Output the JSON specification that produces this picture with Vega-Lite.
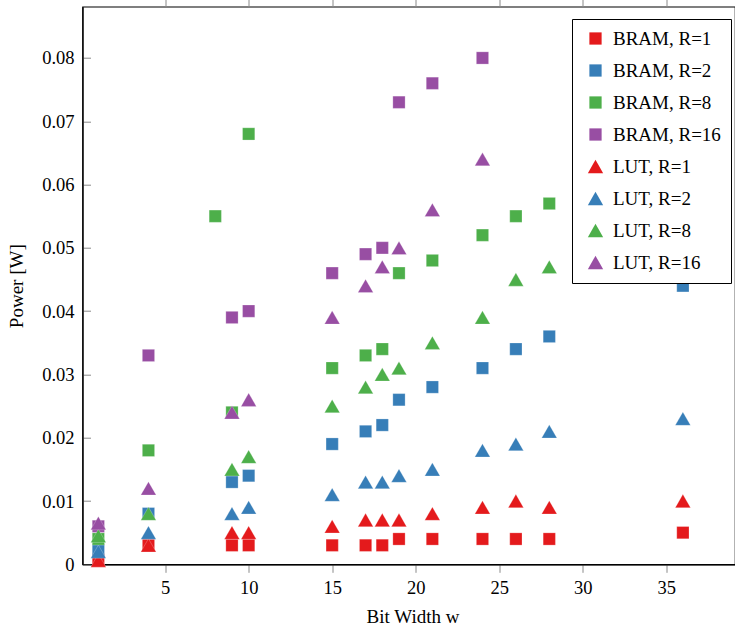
{
  "$schema": "https://vega.github.io/schema/vega-lite/v6.json",
  "autosize": {"type": "none"},
  "padding": {"left": 82.5, "top": 6.7, "right": 0, "bottom": 67.7},
  "width": 652.5,
  "height": 557.6,
  "background": "white",
  "config": {
    "font": "Liberation Serif",
    "view": {"stroke": "black", "strokeWidth": 1.2},
    "axis": {
      "labelFont": "Liberation Serif",
      "titleFont": "Liberation Serif",
      "labelFontSize": 18.5,
      "titleFontSize": 19,
      "labelColor": "black",
      "titleColor": "black",
      "titleFontWeight": "normal",
      "domainColor": "black",
      "domainWidth": 1.2,
      "tickColor": "#8a8a8a",
      "tickWidth": 1,
      "grid": false
    },
    "legend": {
      "labelFont": "Liberation Serif",
      "labelFontSize": 19,
      "labelColor": "black"
    }
  },
  "data": {"values": [
    {"w": 1, "p": 0.0007, "s": "BRAM, R=1"},
    {"w": 4, "p": 0.003, "s": "BRAM, R=1"},
    {"w": 9, "p": 0.003, "s": "BRAM, R=1"},
    {"w": 10, "p": 0.003, "s": "BRAM, R=1"},
    {"w": 15, "p": 0.003, "s": "BRAM, R=1"},
    {"w": 17, "p": 0.003, "s": "BRAM, R=1"},
    {"w": 18, "p": 0.003, "s": "BRAM, R=1"},
    {"w": 19, "p": 0.004, "s": "BRAM, R=1"},
    {"w": 21, "p": 0.004, "s": "BRAM, R=1"},
    {"w": 24, "p": 0.004, "s": "BRAM, R=1"},
    {"w": 26, "p": 0.004, "s": "BRAM, R=1"},
    {"w": 28, "p": 0.004, "s": "BRAM, R=1"},
    {"w": 36, "p": 0.005, "s": "BRAM, R=1"},
    {"w": 1, "p": 0.0022, "s": "BRAM, R=2"},
    {"w": 4, "p": 0.008, "s": "BRAM, R=2"},
    {"w": 9, "p": 0.013, "s": "BRAM, R=2"},
    {"w": 10, "p": 0.014, "s": "BRAM, R=2"},
    {"w": 15, "p": 0.019, "s": "BRAM, R=2"},
    {"w": 17, "p": 0.021, "s": "BRAM, R=2"},
    {"w": 18, "p": 0.022, "s": "BRAM, R=2"},
    {"w": 19, "p": 0.026, "s": "BRAM, R=2"},
    {"w": 21, "p": 0.028, "s": "BRAM, R=2"},
    {"w": 24, "p": 0.031, "s": "BRAM, R=2"},
    {"w": 26, "p": 0.034, "s": "BRAM, R=2"},
    {"w": 28, "p": 0.036, "s": "BRAM, R=2"},
    {"w": 36, "p": 0.044, "s": "BRAM, R=2"},
    {"w": 1, "p": 0.004, "s": "BRAM, R=8"},
    {"w": 4, "p": 0.018, "s": "BRAM, R=8"},
    {"w": 8, "p": 0.055, "s": "BRAM, R=8"},
    {"w": 9, "p": 0.024, "s": "BRAM, R=8"},
    {"w": 10, "p": 0.068, "s": "BRAM, R=8"},
    {"w": 15, "p": 0.031, "s": "BRAM, R=8"},
    {"w": 17, "p": 0.033, "s": "BRAM, R=8"},
    {"w": 18, "p": 0.034, "s": "BRAM, R=8"},
    {"w": 19, "p": 0.046, "s": "BRAM, R=8"},
    {"w": 21, "p": 0.048, "s": "BRAM, R=8"},
    {"w": 24, "p": 0.052, "s": "BRAM, R=8"},
    {"w": 26, "p": 0.055, "s": "BRAM, R=8"},
    {"w": 28, "p": 0.057, "s": "BRAM, R=8"},
    {"w": 1, "p": 0.006, "s": "BRAM, R=16"},
    {"w": 4, "p": 0.033, "s": "BRAM, R=16"},
    {"w": 9, "p": 0.039, "s": "BRAM, R=16"},
    {"w": 10, "p": 0.040, "s": "BRAM, R=16"},
    {"w": 15, "p": 0.046, "s": "BRAM, R=16"},
    {"w": 17, "p": 0.049, "s": "BRAM, R=16"},
    {"w": 18, "p": 0.050, "s": "BRAM, R=16"},
    {"w": 19, "p": 0.073, "s": "BRAM, R=16"},
    {"w": 21, "p": 0.076, "s": "BRAM, R=16"},
    {"w": 24, "p": 0.080, "s": "BRAM, R=16"},
    {"w": 1, "p": 0.0006, "s": "LUT, R=1"},
    {"w": 4, "p": 0.003, "s": "LUT, R=1"},
    {"w": 9, "p": 0.005, "s": "LUT, R=1"},
    {"w": 10, "p": 0.005, "s": "LUT, R=1"},
    {"w": 15, "p": 0.006, "s": "LUT, R=1"},
    {"w": 17, "p": 0.007, "s": "LUT, R=1"},
    {"w": 18, "p": 0.007, "s": "LUT, R=1"},
    {"w": 19, "p": 0.007, "s": "LUT, R=1"},
    {"w": 21, "p": 0.008, "s": "LUT, R=1"},
    {"w": 24, "p": 0.009, "s": "LUT, R=1"},
    {"w": 26, "p": 0.010, "s": "LUT, R=1"},
    {"w": 28, "p": 0.009, "s": "LUT, R=1"},
    {"w": 36, "p": 0.010, "s": "LUT, R=1"},
    {"w": 1, "p": 0.002, "s": "LUT, R=2"},
    {"w": 4, "p": 0.005, "s": "LUT, R=2"},
    {"w": 9, "p": 0.008, "s": "LUT, R=2"},
    {"w": 10, "p": 0.009, "s": "LUT, R=2"},
    {"w": 15, "p": 0.011, "s": "LUT, R=2"},
    {"w": 17, "p": 0.013, "s": "LUT, R=2"},
    {"w": 18, "p": 0.013, "s": "LUT, R=2"},
    {"w": 19, "p": 0.014, "s": "LUT, R=2"},
    {"w": 21, "p": 0.015, "s": "LUT, R=2"},
    {"w": 24, "p": 0.018, "s": "LUT, R=2"},
    {"w": 26, "p": 0.019, "s": "LUT, R=2"},
    {"w": 28, "p": 0.021, "s": "LUT, R=2"},
    {"w": 36, "p": 0.023, "s": "LUT, R=2"},
    {"w": 1, "p": 0.0045, "s": "LUT, R=8"},
    {"w": 4, "p": 0.008, "s": "LUT, R=8"},
    {"w": 9, "p": 0.015, "s": "LUT, R=8"},
    {"w": 10, "p": 0.017, "s": "LUT, R=8"},
    {"w": 15, "p": 0.025, "s": "LUT, R=8"},
    {"w": 17, "p": 0.028, "s": "LUT, R=8"},
    {"w": 18, "p": 0.030, "s": "LUT, R=8"},
    {"w": 19, "p": 0.031, "s": "LUT, R=8"},
    {"w": 21, "p": 0.035, "s": "LUT, R=8"},
    {"w": 24, "p": 0.039, "s": "LUT, R=8"},
    {"w": 26, "p": 0.045, "s": "LUT, R=8"},
    {"w": 28, "p": 0.047, "s": "LUT, R=8"},
    {"w": 1, "p": 0.0065, "s": "LUT, R=16"},
    {"w": 4, "p": 0.012, "s": "LUT, R=16"},
    {"w": 9, "p": 0.024, "s": "LUT, R=16"},
    {"w": 10, "p": 0.026, "s": "LUT, R=16"},
    {"w": 15, "p": 0.039, "s": "LUT, R=16"},
    {"w": 17, "p": 0.044, "s": "LUT, R=16"},
    {"w": 18, "p": 0.047, "s": "LUT, R=16"},
    {"w": 19, "p": 0.050, "s": "LUT, R=16"},
    {"w": 21, "p": 0.056, "s": "LUT, R=16"},
    {"w": 24, "p": 0.064, "s": "LUT, R=16"}
  ]},
  "layer": [
    {
      "mark": {"type": "point", "filled": true, "opacity": 1, "stroke": "white", "strokeWidth": 0.4, "strokeOpacity": 0.6},
      "encoding": {
        "x": {
          "field": "w", "type": "quantitative",
          "scale": {"domain": [0.05, 39.12], "nice": false, "zero": false},
          "axis": {
            "title": "Bit Width w",
            "titleX": 330, "titleY": 52, "titleBaseline": "middle",
            "values": [5, 10, 15, 20, 25, 30, 35],
            "tickSize": 8, "labelPadding": 6
          }
        },
        "y": {
          "field": "p", "type": "quantitative",
          "scale": {"domain": [0, 0.0881], "nice": false, "zero": true},
          "axis": {
            "title": "Power [W]",
            "titleX": -66, "titleY": 279, "titleBaseline": "middle",
            "values": [0, 0.01, 0.02, 0.03, 0.04, 0.05, 0.06, 0.07, 0.08],
            "format": ".2~f",
            "tickSize": -8, "labelPadding": 16.5
          }
        },
        "color": {
          "field": "s", "type": "nominal",
          "scale": {
            "domain": ["BRAM, R=1", "BRAM, R=2", "BRAM, R=8", "BRAM, R=16", "LUT, R=1", "LUT, R=2", "LUT, R=8", "LUT, R=16"],
            "range": ["#E41A1C", "#377EB8", "#4DAF4A", "#984EA3", "#E41A1C", "#377EB8", "#4DAF4A", "#984EA3"]
          },
          "legend": {
            "title": null,
            "orient": "none",
            "legendX": 489.5,
            "legendY": 12.3,
            "fillColor": "white",
            "strokeColor": "black",
            "padding": 10,
            "rowPadding": 12,
            "symbolStrokeWidth": 0,
            "symbolOffset": 4,
            "labelOffset": 8
          }
        },
        "shape": {
          "field": "s", "type": "nominal",
          "scale": {
            "domain": ["BRAM, R=1", "BRAM, R=2", "BRAM, R=8", "BRAM, R=16", "LUT, R=1", "LUT, R=2", "LUT, R=8", "LUT, R=16"],
            "range": ["square", "square", "square", "square", "triangle-up", "triangle-up", "triangle-up", "triangle-up"]
          },
          "legend": {
            "title": null,
            "orient": "none",
            "legendX": 489.5,
            "legendY": 12.3
          }
        },
        "size": {
          "field": "s", "type": "nominal",
          "scale": {
            "type": "ordinal",
            "domain": ["BRAM, R=1", "BRAM, R=2", "BRAM, R=8", "BRAM, R=16", "LUT, R=1", "LUT, R=2", "LUT, R=8", "LUT, R=16"],
            "range": [150, 150, 150, 150, 235, 235, 235, 235]
          },
          "legend": {
            "title": null,
            "orient": "none",
            "legendX": 489.5,
            "legendY": 12.3
          }
        }
      }
    },
    {
      "mark": {"type": "point", "opacity": 0},
      "encoding": {
        "x": {
          "field": "w", "type": "quantitative",
          "axis": {
            "orient": "top", "title": null, "labels": false, "domain": false,
            "values": [5, 10, 15, 20, 25, 30, 35],
            "tickSize": 8
          }
        },
        "y": {"field": "p", "type": "quantitative", "axis": null}
      }
    }
  ],
  "resolve": {"axis": {"x": "independent", "y": "independent"}}
}
